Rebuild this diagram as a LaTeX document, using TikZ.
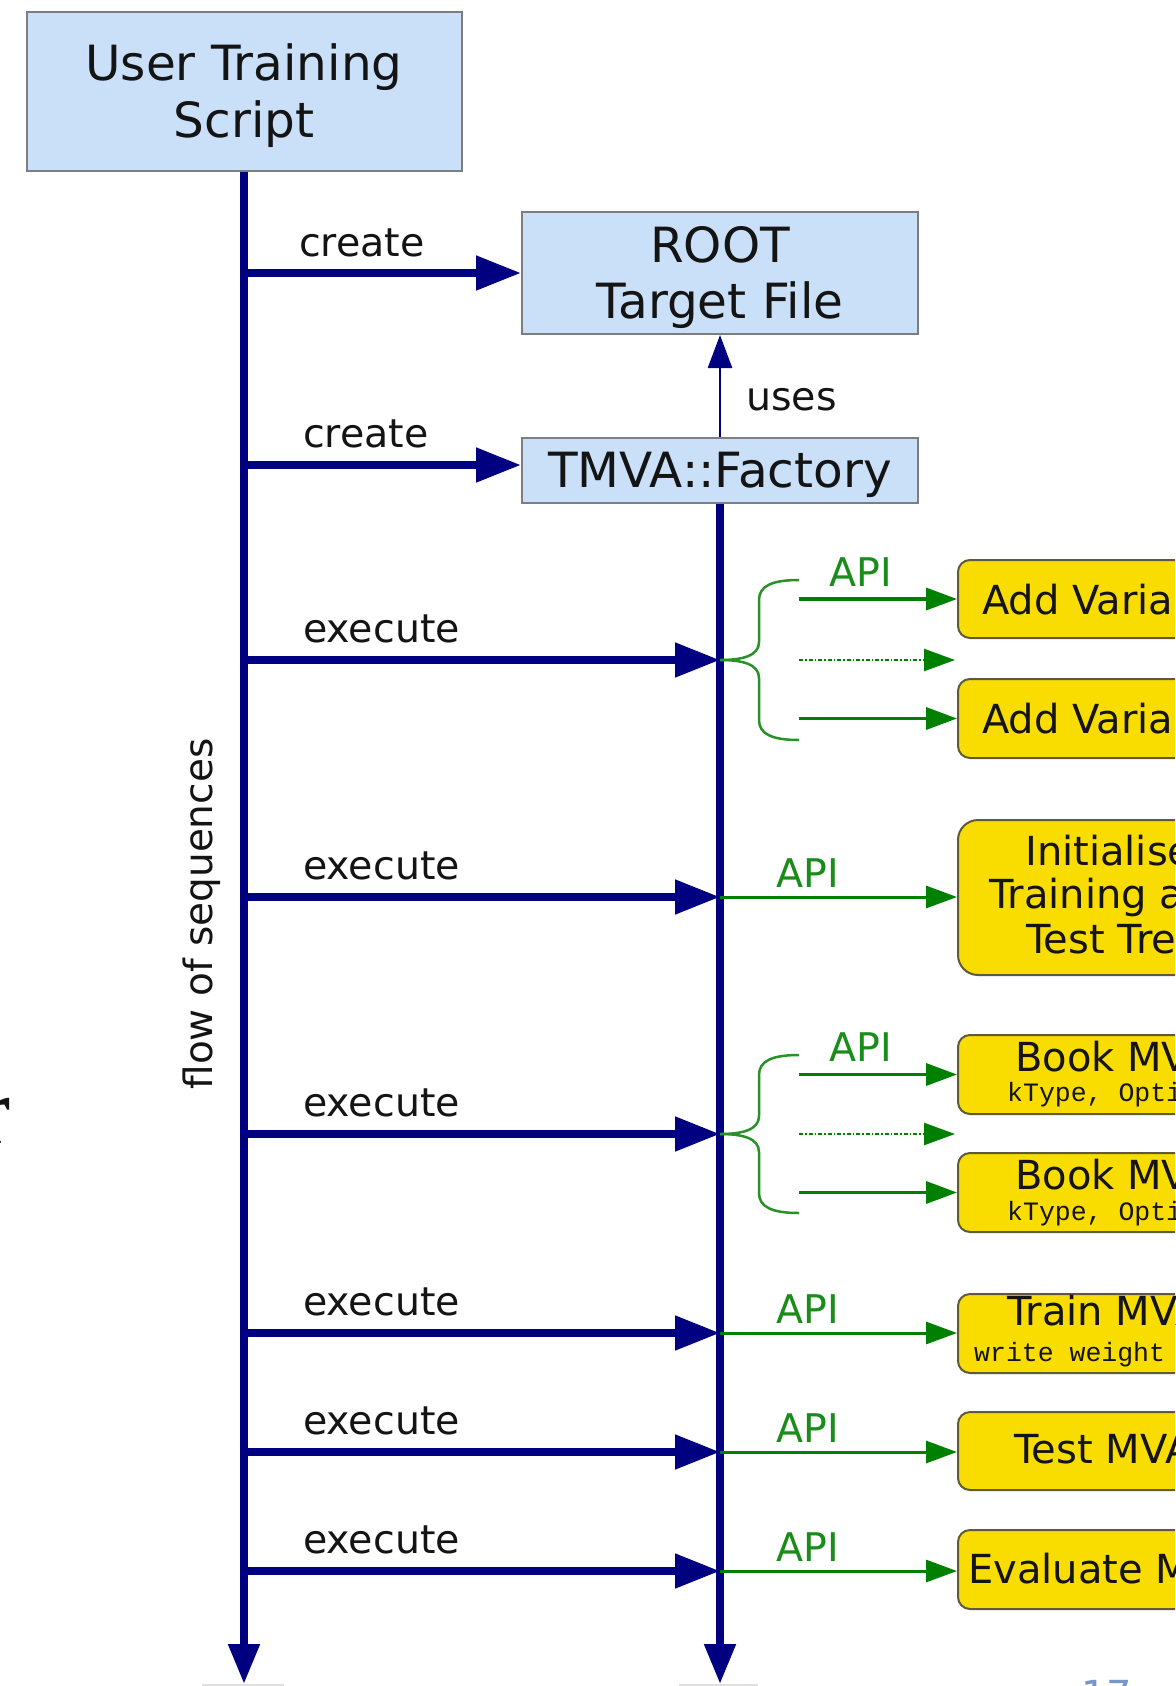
\documentclass[tikz,border=0pt]{standalone}
\usepackage{fontspec}
\setmainfont{DejaVu Sans}
\newfontfamily\codefont{Liberation Mono}
\newfontfamily\romanfont{Liberation Serif}
\usetikzlibrary{arrows.meta}

\definecolor{navyline}{RGB}{0,0,128}
\definecolor{boxblue}{RGB}{202,223,248}
\definecolor{boxyellow}{RGB}{249,220,0}
\definecolor{apigreen}{RGB}{0,128,0}
\definecolor{bracegreen}{RGB}{40,145,40}
\definecolor{labelgreen}{RGB}{25,140,25}
\definecolor{blueedge}{RGB}{125,125,130}
\definecolor{yellowedge}{RGB}{95,90,60}
\definecolor{pagenum}{RGB}{120,150,200}
\definecolor{inktext}{RGB}{20,20,20}

\begin{document}
\begin{tikzpicture}[x=1pt,y=-1pt,
  bluebox/.style={draw=blueedge, line width=2pt, fill=boxblue, inner sep=0pt,
    align=center, text=inktext, font=\fontsize{48.5}{56.5}\selectfont},
  ybox/.style={draw=yellowedge, line width=2pt, fill=boxyellow, rounded corners=12pt,
    inner sep=0pt, anchor=west, minimum width=443pt},
  ytext/.style={anchor=base west, inner sep=0pt, text=inktext, font=\fontsize{40}{44}\selectfont},
  ycode/.style={anchor=base west, inner sep=0pt, text=inktext, font=\codefont\fontsize{26.5}{30}\selectfont},
  lbl/.style={anchor=base west, inner sep=0pt, text=inktext, font=\fontsize{39.5}{44}\selectfont},
  apilbl/.style={inner sep=0pt, text=labelgreen, font=\fontsize{39.5}{44}\selectfont},
  flowarrow/.style={draw=navyline, line width=8pt, -{Triangle[length=45pt,width=33pt]}},
  timeline/.style={draw=navyline, line width=8pt, -{Triangle[length=40pt,width=30pt]}},
  usesarrow/.style={draw=navyline, line width=2.5pt, -{Triangle[length=33pt,width=24pt]}},
  apiarrow/.style={draw=apigreen, line width=3pt, -{Triangle[length=31pt,width=22pt]}},
  bracearrow/.style={draw=apigreen, line width=3.5pt, -{Triangle[length=31pt,width=22pt]}},
  dotarrow/.style={draw=apigreen, line width=2.5pt, dash pattern=on 4pt off 2pt on 1.5pt off 2pt,
    -{Triangle[length=31pt,width=22pt]}},
  bracepath/.style={draw=bracegreen, line width=2.5pt},
]
\useasboundingbox (0,0) rectangle (1175,1686);
\clip (0,0) rectangle (1175,1686);
\fill[white] (0,0) rectangle (1175,1686);

% ---- blue boxes -------------------------------------------------------
\node[bluebox, minimum width=435pt, minimum height=159pt] (uts) at (244,91.5)
  {\rule{0pt}{45pt}User Training\\Script};
\node[bluebox, minimum width=396pt, minimum height=122pt] (root) at (720,273)
  {\rule{0pt}{45pt}ROOT\\Target File};
\node[bluebox, minimum width=396pt, minimum height=65pt] (tmva) at (720,470.5)
  {\rule{0pt}{44pt}TMVA::Factory};

% ---- yellow method boxes ----------------------------------------------
\node[ybox, minimum height=78pt] (addA) at (957,599) {};
\node[ybox, minimum height=79pt] (addB) at (957,718.5) {};
\node[ybox, minimum height=155pt, rounded corners=20pt] (init) at (957,897.5) {};
\node[ybox, minimum height=79pt] (bookA) at (957,1074.5) {};
\node[ybox, minimum height=79pt] (bookB) at (957,1192.5) {};
\node[ybox, minimum height=79pt] (train) at (957,1333.5) {};
\node[ybox, minimum height=78pt] (test) at (957,1451) {};
\node[ybox, minimum height=79pt] (eval) at (957,1569.5) {};

\node[ytext] (addAt) at (982,614) {Add Variable};
\node[ytext] (addBt) at (982,733) {Add Variable};
\node[ytext] (initt1) at (1025,865) {Initialise};
\node[ytext] (initt2) at (989,908) {Training and};
\node[ytext] (initt3) at (1026,953) {Test Trees};
\node[ytext] (bookAt) at (1015,1071) {Book MVA method};
\node[ycode] (bookAc) at (1007,1101) {kType, Options};
\node[ytext] (bookBt) at (1015,1189) {Book MVA method};
\node[ycode] (bookBc) at (1007,1220) {kType, Options};
\node[ytext] (traint) at (1007,1325) {Train MVA methods};
\node[ycode] (trainc) at (974,1361) {write weight files};
\node[ytext] (testt) at (1014,1463) {Test MVA methods};
\node[ytext] (evalt) at (968,1583) {Evaluate MVA methods};

% ---- time lines ---------------------------------------------------------
\coordinate (lbot) at (244,1684);
\coordinate (rbot) at (720,1684);
\draw[timeline] (uts.south) -- (lbot);
\draw[timeline] (tmva.south) -- (rbot);

\node[inner sep=0pt, rotate=90, text=inktext, font=\fontsize{39}{44}\selectfont]
  (flow) at (202,914) {flow of sequences};

% ---- create / uses ------------------------------------------------------
\coordinate (c1) at (244,273);
\coordinate (c2) at (244,465);
\draw[flowarrow] (c1) -- (c1 -| root.west);
\draw[flowarrow] (c2) -- (c2 -| tmva.west);
\node[lbl] (create1) at (299,256) {create};
\node[lbl] (create2) at (303,447) {create};

\draw[usesarrow] (tmva.north) -- (root.south);
\node[lbl] (uses) at (746,410) {uses};

% ---- execute calls ------------------------------------------------------
\foreach \n/\y in {1/660, 2/897, 3/1134, 4/1333, 5/1452, 6/1571} {
  \coordinate (s\n) at (244,\y);
  \coordinate (t\n) at (720,\y);
  \draw[flowarrow] (s\n) -- (t\n);
  \node[lbl] (exec\n) at (303,\y-17.5) {execute};
}

% ---- API calls with braces ---------------------------------------------
\draw[bracepath] (t1) .. controls (742,660) and (759,656) .. (759,642) -- (759,600)
  .. controls (759,586) and (772,580) .. (799,580);
\draw[bracepath] (t1) .. controls (742,660) and (759,664) .. (759,678) -- (759,720)
  .. controls (759,734) and (772,740) .. (799,740);
\coordinate (g1) at (799,599);
\coordinate (g2) at (799,660);
\coordinate (g2e) at (955,660);
\coordinate (g3) at (799,718.5);
\draw[bracearrow] (g1) -- (g1 -| addA.west);
\draw[dotarrow] (g2) -- (g2e);
\draw[bracearrow] (g3) -- (g3 -| addB.west);
\node[apilbl] (api1) at (861,572) {API};

\draw[bracepath] (t3) .. controls (742,1134) and (759,1130) .. (759,1116) -- (759,1075)
  .. controls (759,1061) and (772,1055) .. (799,1055);
\draw[bracepath] (t3) .. controls (742,1134) and (759,1138) .. (759,1152) -- (759,1193)
  .. controls (759,1207) and (772,1213) .. (799,1213);
\coordinate (h1) at (799,1074.5);
\coordinate (h2) at (799,1134);
\coordinate (h2e) at (955,1134);
\coordinate (h3) at (799,1192.5);
\draw[bracearrow] (h1) -- (h1 -| bookA.west);
\draw[dotarrow] (h2) -- (h2e);
\draw[bracearrow] (h3) -- (h3 -| bookB.west);
\node[apilbl] (api3) at (861,1047) {API};

% ---- single API calls ---------------------------------------------------
\draw[apiarrow] (t2) -- (t2 -| init.west);
\draw[apiarrow] (t4) -- (t4 -| train.west);
\draw[apiarrow] (t5) -- (t5 -| test.west);
\draw[apiarrow] (t6) -- (t6 -| eval.west);
\node[apilbl] (api2) at (808,873) {API};
\node[apilbl] (api4) at (808,1309) {API};
\node[apilbl] (api5) at (808,1428) {API};
\node[apilbl] (api6) at (808,1547) {API};

% ---- page edges -----------------------------------------------------------
\draw[black!12, line width=2pt] (202,1685) -- (284,1685);
\draw[black!12, line width=2pt] (679,1685) -- (758,1685);
\node[anchor=north west, inner sep=0pt, text=pagenum, font=\fontsize{40}{40}\selectfont]
  (pageno) at (1081,1680) {17};
\node[anchor=base west, inner sep=0pt, text=inktext, font=\romanfont\fontsize{96}{96}\selectfont]
  (margin) at (-22,1143) {r};
\end{tikzpicture}
\end{document}
